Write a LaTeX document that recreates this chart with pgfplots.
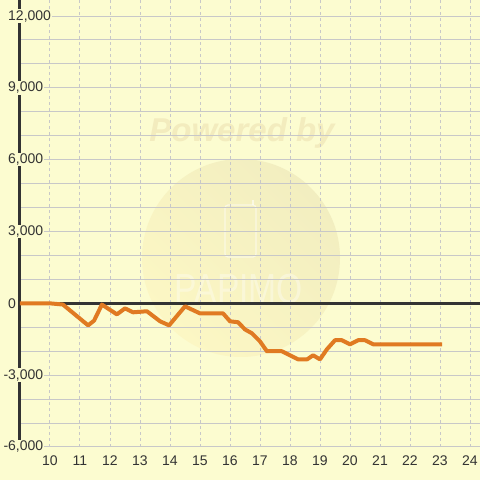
\documentclass[border=0pt]{standalone}
\usepackage{fontspec}
\setmainfont{Liberation Sans}
\usepackage{pgfplots}
\pgfplotsset{compat=1.18}
\definecolor{bg}{HTML}{FCFCD0}
\definecolor{gridc}{HTML}{C8C8C8}
\definecolor{axisc}{HTML}{333333}
\definecolor{linec}{HTML}{E07A22}
\definecolor{wmtop}{HTML}{F2EEC0}
\definecolor{wmmid}{HTML}{FBF2B5}
\definecolor{wmbot}{HTML}{FCF7C4}
\definecolor{wmtext}{HTML}{F3ECBE}
\pgfplotstableread{
h v
9 0
10 0
10.43 -50
11.27 -920
11.47 -720
11.73 -50
12.23 -460
12.5 -210
12.77 -375
13.23 -330
13.67 -750
13.97 -920
14.5 -125
15.0 -420
15.77 -420
16.0 -750
16.27 -790
16.5 -1090
16.73 -1250
17.0 -1590
17.23 -2000
17.73 -2000
18.0 -2170
18.27 -2340
18.57 -2340
18.77 -2170
19.0 -2340
19.23 -1920
19.5 -1540
19.73 -1540
20.0 -1710
20.27 -1540
20.5 -1540
20.77 -1710
23.07 -1710
}\datatable
\begin{document}
\begin{tikzpicture}[font=\fontsize{14}{16}\selectfont]
\fill[bg] (-20pt,-33pt) rectangle (460pt,447pt);
\useasboundingbox (-20pt,-33pt) rectangle (460pt,447pt);
\shade[top color=wmtop, middle color=wmmid, bottom color=wmbot, shading angle=-45] (221pt,189pt) circle (99pt);
\draw[white, opacity=0.55, line width=1.2pt, rounded corners=3pt] (205pt,190pt) rectangle (236pt,242pt);
\draw[white, opacity=0.55, line width=1.2pt] (233pt,242pt) -- (233pt,247pt);
\node[white, opacity=0.35, xscale=0.8, font=\fontsize{42}{44}\selectfont] at (219pt,158pt) {PAPIMO};
\node[wmtext, font=\fontsize{33}{36}\selectfont\bfseries\itshape] at (222pt,314pt) {Powered by};
\begin{axis}[
  at={(0,0)}, anchor=south west,
  scale only axis, width=460pt, height=447pt,
  xmin=9, xmax=24.3333, ymin=-6000, ymax=12670,
  axis x line=bottom, axis y line=left,
  x axis line style={draw=none, -},
  y axis line style={draw=axisc, line width=3pt, -, shorten <=-1pt},
  xtick={10,...,24},
  ytick={-6000,-3000,0,3000,6000,9000,12000},
  yticklabels={{\llap{-}6,000},{\llap{-}3,000},{0},{3,000},{6,000},{9,000},{12,000}},
  minor ytick={-5000,-4000,-2000,-1000,1000,2000,4000,5000,7000,8000,10000,11000},
  ymajorgrids, yminorgrids, xmajorgrids,
  major x grid style={gridc, dash pattern=on 3pt off 3pt, line width=1pt},
  major y grid style={gridc, line width=1pt},
  minor y grid style={gridc, line width=1pt},
  major tick length=0pt, minor tick length=0pt,
  tick style={draw=none},
  yticklabel style={anchor=west, xshift=-13pt, fill=bg, inner sep=1pt, text=axisc},
  xticklabel style={anchor=base, yshift=-19pt, text=axisc},
  /pgf/number format/assume math mode=true,
]
\draw[axisc, line width=3pt] (axis cs:9,0) -- (axis cs:24.3333,0);
\addplot[linec, line width=4pt, line join=round, no marks] table[x=h, y=v] {\datatable};
\end{axis}
\end{tikzpicture}
\end{document}
